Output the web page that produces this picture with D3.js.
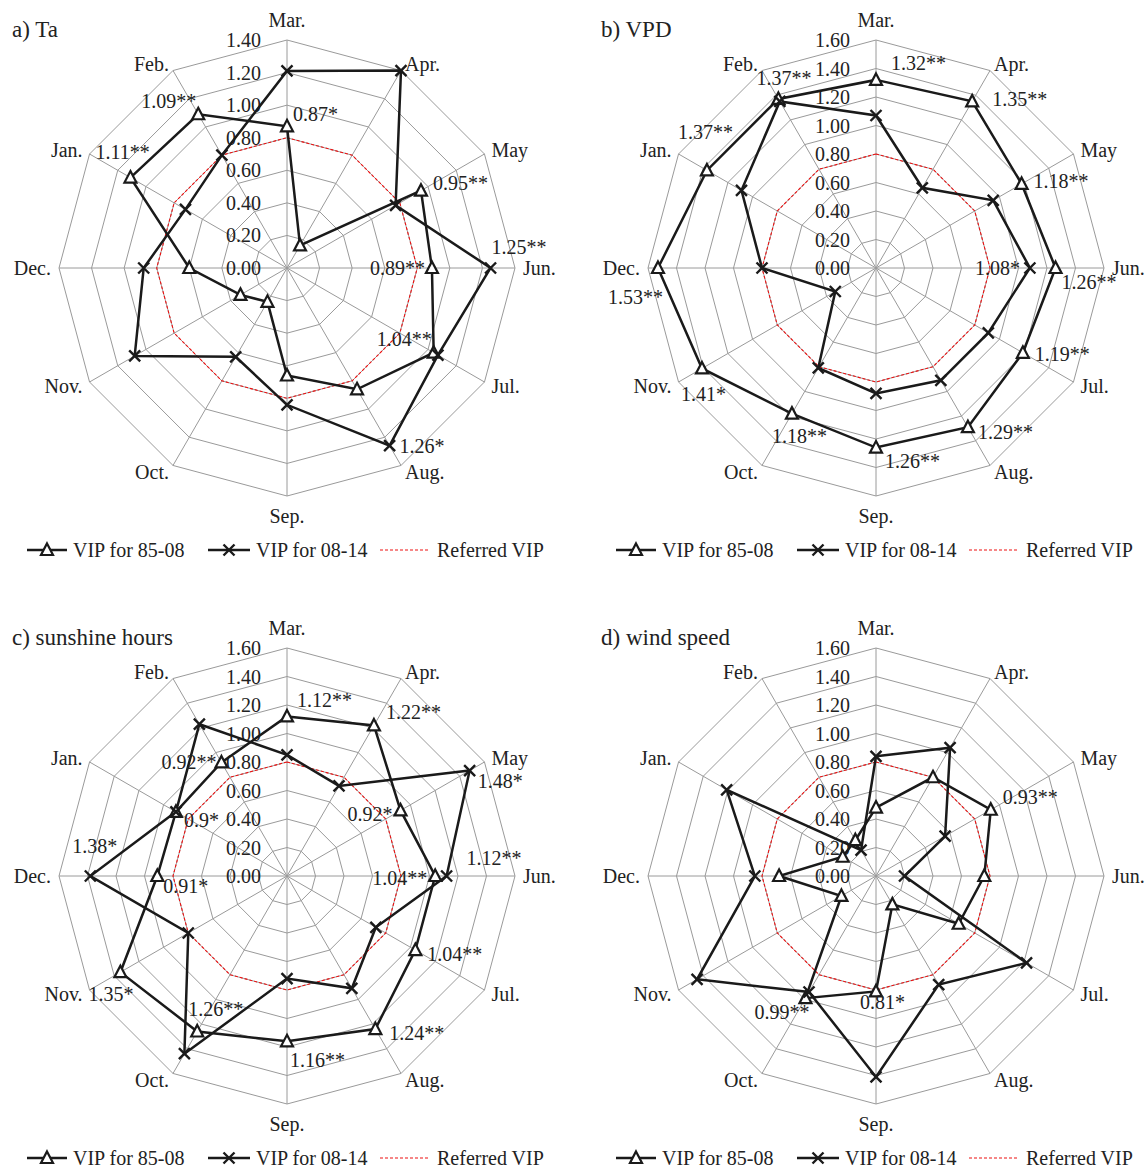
<!DOCTYPE html>
<meta charset="utf-8">
<body></body>
<script src="https://d3js.org/d3.v7.min.js"></script>
<style>
    body { margin: 0; background: #fff; }
    text { font-family: "Liberation Serif", "Times New Roman", serif; fill: #222; }
    .grid path, .grid line { fill: none; stroke: #9a9a9a; stroke-width: 1px; }
    .ref { fill: none; stroke: #ee1111; stroke-width: 1.1px; stroke-dasharray: 3 2; }
    .series { fill: none; stroke: #1a1a1a; stroke-width: 2.5px; stroke-linejoin: miter; }
    .tri { fill: #fff; stroke: #1a1a1a; stroke-width: 2.2px; }
    .cross { fill: none; stroke: #1a1a1a; stroke-width: 2.4px; }
</style>
<script>
    var months = ["Mar.", "Apr.", "May", "Jun.", "Jul.", "Aug.", "Sep.", "Oct.", "Nov.", "Dec.", "Jan.", "Feb."];

    var ticksTa = [0, 0.2, 0.4, 0.6, 0.8, 1.0, 1.2, 1.4];
    var ticksOther = [0, 0.2, 0.4, 0.6, 0.8, 1.0, 1.2, 1.4, 1.6];
    var referredVip = [0.8, 0.8, 0.8, 0.8, 0.8, 0.8, 0.8, 0.8, 0.8, 0.8, 0.8, 0.8];

    // VIP values, Mar. .. Feb.
    var taVip8508 = [0.87, 0.16, 0.95, 0.89, 1.04, 0.86, 0.66, 0.24, 0.33, 0.60, 1.11, 1.09];
    var taVip0814 = [1.21, 1.40, 0.77, 1.25, 1.07, 1.26, 0.84, 0.63, 1.08, 0.88, 0.72, 0.80];
    var vpdVip8508 = [1.32, 1.35, 1.18, 1.26, 1.19, 1.29, 1.26, 1.18, 1.41, 1.53, 1.37, 1.37];
    var vpdVip0814 = [1.07, 0.65, 0.95, 1.08, 0.91, 0.91, 0.88, 0.81, 0.33, 0.80, 1.09, 1.35];
    var sunVip8508 = [1.12, 1.22, 0.92, 1.04, 1.04, 1.24, 1.16, 1.26, 1.35, 0.91, 0.90, 0.92];
    var sunVip0814 = [0.85, 0.73, 1.48, 1.12, 0.72, 0.91, 0.72, 1.44, 0.80, 1.38, 0.90, 1.23];
    var windVip8508 = [0.48, 0.80, 0.93, 0.76, 0.67, 0.23, 0.81, 0.99, 0.28, 0.68, 0.27, 0.29];
    var windVip0814 = [0.84, 1.04, 0.56, 0.20, 1.22, 0.88, 1.41, 0.94, 1.45, 0.85, 1.21, 0.21];

    // significance labels: month, series (0 = 85-08, 1 = 08-14), text
    var taLabels = [["Mar.", 0, "0.87*"], ["Feb.", 0, "1.09**"], ["Jan.", 0, "1.11**"], ["May", 0, "0.95**"],
        ["Jun.", 1, "1.25**"], ["Jun.", 0, "0.89**"], ["Jul.", 0, "1.04**"], ["Aug.", 1, "1.26*"]];
    var vpdLabels = [["Mar.", 0, "1.32**"], ["Apr.", 0, "1.35**"], ["May", 0, "1.18**"], ["Jun.", 0, "1.26**"],
        ["Jun.", 1, "1.08*"], ["Jul.", 0, "1.19**"], ["Aug.", 0, "1.29**"], ["Sep.", 0, "1.26**"],
        ["Oct.", 0, "1.18**"], ["Nov.", 0, "1.41*"], ["Dec.", 0, "1.53**"], ["Jan.", 0, "1.37**"], ["Feb.", 0, "1.37**"]];
    var sunLabels = [["Mar.", 0, "1.12**"], ["Apr.", 0, "1.22**"], ["May", 1, "1.48*"], ["May", 0, "0.92*"],
        ["Jun.", 1, "1.12**"], ["Jun.", 0, "1.04**"], ["Jul.", 0, "1.04**"], ["Aug.", 0, "1.24**"],
        ["Sep.", 0, "1.16**"], ["Oct.", 0, "1.26**"], ["Nov.", 0, "1.35*"], ["Dec.", 1, "1.38*"],
        ["Dec.", 0, "0.91*"], ["Jan.", 0, "0.9*"], ["Feb.", 0, "0.92**"]];
    var windLabels = [["May", 0, "0.93**"], ["Oct.", 0, "0.99**"], ["Sep.", 0, "0.81*"]];

    // where each label sits relative to its marker: dx, dy, anchor
    var taLabelPos = [[6, -12, "start"], [-2, -13, "end"], [-35, -26, "start"], [12, -8, "start"],
        [1, -21, "start"], [-7, 0, "end"], [-2, -14, "end"], [10, 0, "start"]];
    var vpdLabelPos = [[15, -17, "start"], [20, -2, "start"], [12, -3, "start"], [6, 14, "start"],
        [-10, 0, "end"], [12, 1, "start"], [10, 5, "start"], [9, 13, "start"],
        [-20, 22, "start"], [-21, 26, "start"], [5, 29, "end"], [-29, -38, "start"], [-22, -21, "start"]];
    var sunLabelPos = [[10, -16, "start"], [12, -13, "start"], [8, 10, "start"], [-8, 4, "end"],
        [20, -18, "start"], [-8, 2, "end"], [12, 4, "start"], [14, 4, "start"],
        [3, 19, "start"], [-9, -22, "start"], [-32, 22, "start"], [-18, -30, "start"],
        [6, 10, "start"], [8, 8, "start"], [-5, 0, "end"]];
    var windLabelPos = [[12, -13, "start"], [4, 14, "end"], [-16, 11, "start"]];

    var panels = [
        { title: "a) Ta", cx: 287, cy: 268, ticks: ticksTa, s1: taVip8508, s2: taVip0814, labels: taLabels, pos: taLabelPos },
        { title: "b) VPD", cx: 876, cy: 268, ticks: ticksOther, s1: vpdVip8508, s2: vpdVip0814, labels: vpdLabels, pos: vpdLabelPos },
        { title: "c) sunshine hours", cx: 287, cy: 876, ticks: ticksOther, s1: sunVip8508, s2: sunVip0814, labels: sunLabels, pos: sunLabelPos },
        { title: "d) wind speed", cx: 876, cy: 876, ticks: ticksOther, s1: windVip8508, s2: windVip0814, labels: windLabels, pos: windLabelPos }
    ];

    var R = 228;
    var triPath = "M0,-6.5L6,5L-6,5Z";
    var crossPath = "M-5.5,-5.5L5.5,5.5M-5.5,5.5L5.5,-5.5";

    var svg = d3.select("body").append("svg")
        .attr("width", 1148)
        .attr("height", 1170);

    var angle = d3.scalePoint().domain(months).range([0, 2 * Math.PI * 11 / 12]);

    panels.forEach(function (p) {
        var rScale = d3.scaleLinear().domain([0, d3.max(p.ticks)]).range([0, R]);
        var g = svg.append("g").attr("transform", "translate(" + p.cx + "," + p.cy + ")");

        function px(m, v) { return rScale(v) * Math.sin(angle(m)); }
        function py(m, v) { return -rScale(v) * Math.cos(angle(m)); }

        var line = d3.lineRadial()
            .angle(function (d, i) { return angle(months[i]); })
            .radius(function (d) { return rScale(d); })
            .curve(d3.curveLinearClosed);

        // grid
        var grid = g.append("g").attr("class", "grid");
        grid.selectAll("path")
            .data(p.ticks.filter(function (t) { return t > 0; }))
            .enter().append("path")
            .attr("d", function (t) { return line(months.map(function () { return t; })); });
        grid.selectAll("line")
            .data(months)
            .enter().append("line")
            .attr("x1", 0).attr("y1", 0)
            .attr("x2", function (m) { return px(m, d3.max(p.ticks)); })
            .attr("y2", function (m) { return py(m, d3.max(p.ticks)); });

        // tick labels
        g.append("g").selectAll("text")
            .data(p.ticks)
            .enter().append("text")
            .attr("x", -26)
            .attr("y", function (t) { return -rScale(t); })
            .attr("dy", "0.35em")
            .attr("text-anchor", "end")
            .attr("font-size", 20)
            .text(function (t) { return d3.format(".2f")(t); });

        // month labels
        g.append("g").selectAll("text")
            .data(months)
            .enter().append("text")
            .attr("x", function (m) { return (R + 8) * Math.sin(angle(m)); })
            .attr("y", function (m) {
                var c = Math.cos(angle(m));
                var off = Math.abs(Math.sin(angle(m))) < 0.01 ? 20 : 8;
                return -(R + off) * c;
            })
            .attr("dy", "0.35em")
            .attr("text-anchor", function (m) {
                var s = Math.sin(angle(m));
                return Math.abs(s) < 0.01 ? "middle" : (s > 0 ? "start" : "end");
            })
            .attr("font-size", 20)
            .text(function (m) { return m; });

        // referred VIP
        g.append("path").attr("class", "ref").attr("d", line(referredVip));

        // series
        g.append("path").attr("class", "series").attr("d", line(p.s1));
        g.append("path").attr("class", "series").attr("d", line(p.s2));

        g.append("g").selectAll("path")
            .data(p.s1)
            .enter().append("path")
            .attr("class", "tri")
            .attr("d", triPath)
            .attr("transform", function (d, i) { return "translate(" + px(months[i], d) + "," + py(months[i], d) + ")"; });
        g.append("g").selectAll("path")
            .data(p.s2)
            .enter().append("path")
            .attr("class", "cross")
            .attr("d", crossPath)
            .attr("transform", function (d, i) { return "translate(" + px(months[i], d) + "," + py(months[i], d) + ")"; });

        // significance labels
        g.append("g").selectAll("text")
            .data(p.labels)
            .enter().append("text")
            .attr("x", function (d, i) {
                var v = (d[1] === 0 ? p.s1 : p.s2)[months.indexOf(d[0])];
                return px(d[0], v) + p.pos[i][0];
            })
            .attr("y", function (d, i) {
                var v = (d[1] === 0 ? p.s1 : p.s2)[months.indexOf(d[0])];
                return py(d[0], v) + p.pos[i][1];
            })
            .attr("dy", "0.35em")
            .attr("text-anchor", function (d, i) { return p.pos[i][2]; })
            .attr("font-size", 20)
            .text(function (d) { return d[2]; });

        // title
        g.append("text")
            .attr("x", -275)
            .attr("y", -239)
            .attr("dy", "0.35em")
            .attr("font-size", 23)
            .text(p.title);

        // legend
        var lg = g.append("g").attr("transform", "translate(0,282)");
        lg.append("line").attr("x1", -260).attr("x2", -220).attr("y1", 0).attr("y2", 0)
            .attr("stroke", "#1a1a1a").attr("stroke-width", 2.5);
        lg.append("path").attr("class", "tri").attr("d", triPath).attr("transform", "translate(-240,0)");
        lg.append("text").attr("x", -214).attr("dy", "0.35em").attr("font-size", 20).text("VIP for 85-08");

        lg.append("line").attr("x1", -79).attr("x2", -37).attr("y1", 0).attr("y2", 0)
            .attr("stroke", "#1a1a1a").attr("stroke-width", 2.5);
        lg.append("path").attr("class", "cross").attr("d", crossPath).attr("transform", "translate(-58,0)");
        lg.append("text").attr("x", -31).attr("dy", "0.35em").attr("font-size", 20).text("VIP for 08-14");

        lg.append("line").attr("class", "ref").attr("x1", 93).attr("x2", 143).attr("y1", 0).attr("y2", 0);
        lg.append("text").attr("x", 150).attr("dy", "0.35em").attr("font-size", 20).text("Referred VIP");
    });
</script>
